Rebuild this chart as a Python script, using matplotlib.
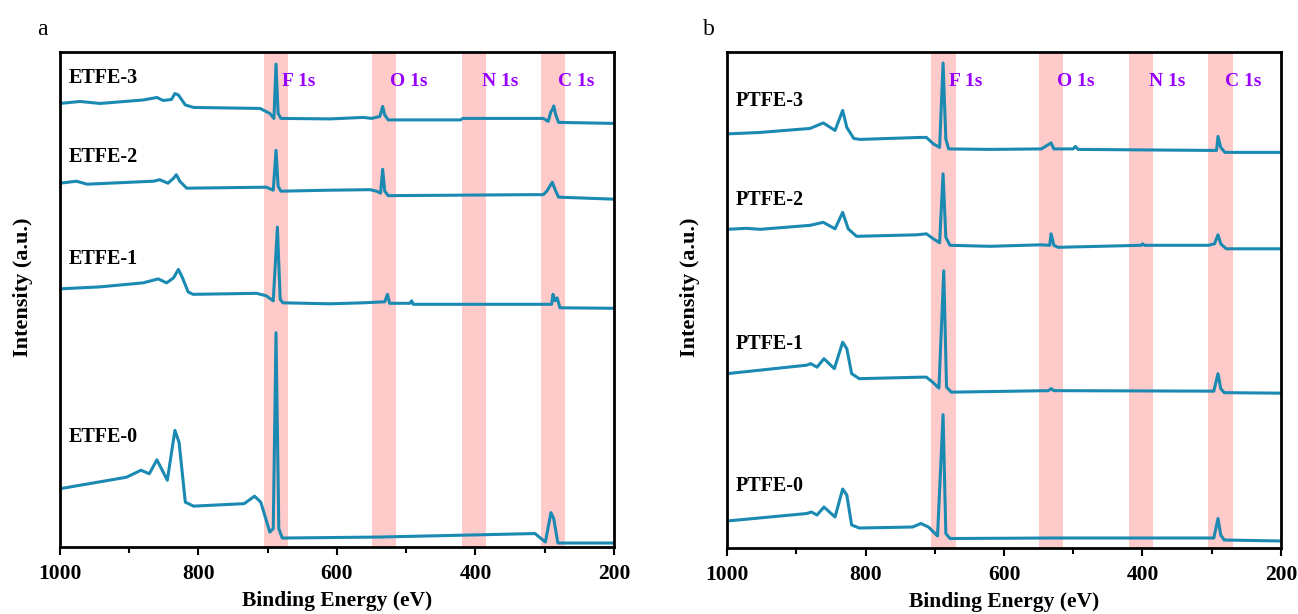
import numpy as np
import matplotlib.pyplot as plt

plt.rcParams['font.family'] = ['Liberation Serif', 'DejaVu Serif']

# 结合能 (eV) 与强度 (a.u.)，各谱线已按堆叠偏移
etfe3_x = [1000, 971, 942, 880, 860, 851, 839, 834, 829, 819, 807, 711, 697, 691, 688, 685, 681,
           610, 562, 550, 538, 534, 531, 526, 422, 418, 302, 295, 291, 289, 287, 284, 280, 201]
etfe3_y = [88.7, 89.1, 88.7, 89.4, 89.9, 89.3, 89.5, 90.7, 90.4, 88.4, 87.9, 87.7, 86.7, 85.7, 96.6, 86.7, 85.7,
           85.6, 85.9, 85.7, 86.1, 88.1, 86.4, 85.4, 85.4, 85.7, 85.7, 85.1, 87.1, 87.4, 88.2, 86.4, 84.9, 84.7]

etfe2_x = [1000, 976, 961, 865, 856, 844, 836, 832, 827, 817, 702, 692, 688, 685, 681,
           610, 552, 543, 537, 534, 531, 526, 321, 302, 297, 289, 285, 280, 201]
etfe2_y = [72.7, 73.1, 72.5, 73.1, 73.4, 72.7, 73.7, 74.4, 73.1, 71.7, 71.9, 71.3, 79.3, 72.1, 71.1,
           71.3, 71.4, 71.1, 70.7, 75.5, 71.1, 70.2, 70.4, 70.4, 71.1, 72.9, 71.4, 69.9, 69.5]

etfe1_x = [1000, 942, 880, 858, 846, 836, 829, 823, 815, 808, 716, 702, 692, 686, 682, 678,
           610, 562, 531, 527, 524, 495, 492, 490, 302, 290, 288, 285, 282, 278, 201]
etfe1_y = [51.5, 51.9, 52.7, 53.5, 52.7, 53.7, 55.4, 53.7, 50.9, 50.4, 50.6, 50.1, 49.1, 63.9, 49.4, 48.7,
           48.5, 48.7, 48.9, 50.4, 48.6, 48.6, 49.1, 48.4, 48.4, 48.4, 50.4, 49.1, 49.7, 47.7, 47.6]

etfe0_x = [1000, 904, 883, 871, 860, 845, 834, 828, 819, 807, 734, 719, 710, 697, 692, 688, 684, 679,
           539, 314, 299, 291, 287, 281, 200]
etfe0_y = [11.4, 13.7, 15.1, 14.4, 17.2, 13.1, 23.1, 20.7, 8.7, 7.9, 8.4, 9.9, 8.7, 2.7, 3.4, 42.7, 3.4, 1.5,
           1.7, 2.4, 0.7, 6.6, 5.4, 0.5, 0.5]

ptfe3_x = [1000, 952, 880, 861, 844, 833, 827, 817, 808, 721, 712, 702, 693, 688, 684, 680,
           620, 546, 532, 528, 500, 497, 493, 305, 293, 291, 287, 281, 200]
ptfe3_y = [82.6, 82.9, 83.7, 84.8, 83.3, 87.3, 83.9, 81.7, 81.5, 81.9, 81.9, 80.6, 79.9, 96.8, 81.6, 79.6,
           79.5, 79.6, 80.8, 79.6, 79.6, 80.1, 79.5, 79.3, 79.3, 82.1, 79.9, 78.9, 78.9]

ptfe2_x = [1000, 972, 952, 880, 861, 844, 833, 825, 813, 726, 712, 702, 693, 688, 684, 678,
           620, 546, 534, 532, 528, 522, 402, 400, 397, 305, 296, 291, 287, 279, 200]
ptfe2_y = [63.5, 63.7, 63.5, 64.3, 64.9, 63.6, 66.9, 63.6, 62.1, 62.4, 62.6, 61.6, 60.8, 74.6, 61.9, 60.3,
           60.1, 60.4, 60.3, 62.6, 60.3, 59.9, 60.3, 60.6, 60.3, 60.3, 60.6, 62.4, 60.6, 59.6, 59.6]

ptfe1_x = [1000, 885, 879, 870, 860, 845, 833, 827, 820, 809, 720, 712, 703, 694, 687, 683, 676,
           536, 532, 528, 297, 291, 287, 282, 200]
ptfe1_y = [34.6, 36.3, 36.6, 35.9, 37.6, 35.6, 40.9, 39.6, 34.6, 33.6, 33.9, 33.9, 32.9, 31.7, 55.2, 31.9, 30.9,
           31.2, 31.6, 31.2, 31.1, 34.6, 31.6, 30.8, 30.7]

ptfe0_x = [1000, 885, 878, 870, 860, 844, 833, 827, 820, 809, 732, 720, 709, 696, 688, 684, 678,
           532, 297, 291, 287, 282, 200]
ptfe0_y = [5.1, 6.6, 6.9, 6.3, 7.9, 5.9, 11.5, 10.3, 4.3, 3.7, 3.9, 4.6, 3.9, 2.1, 26.4, 2.6, 1.6,
           1.7, 1.7, 5.6, 2.3, 1.3, 1.1]

# 元素特征峰区间
bands = [(670, 705), (515, 550), (385, 420), (270, 305)]
peak_names = ['F 1s', 'O 1s', 'N 1s', 'C 1s']
peak_text_x = [679, 524, 391, 281]

left_curves = [(etfe3_x, etfe3_y), (etfe2_x, etfe2_y), (etfe1_x, etfe1_y), (etfe0_x, etfe0_y)]
left_names = ['ETFE-3', 'ETFE-2', 'ETFE-1', 'ETFE-0']
left_name_y = [93.8, 78.0, 57.4, 21.8]

right_curves = [(ptfe3_x, ptfe3_y), (ptfe2_x, ptfe2_y), (ptfe1_x, ptfe1_y), (ptfe0_x, ptfe0_y)]
right_names = ['PTFE-3', 'PTFE-2', 'PTFE-1', 'PTFE-0']
right_name_y = [89.2, 69.4, 40.6, 12.2]

line_color = '#1a8ab2'
band_color = '#ffcaca'
text_color = '#9900ff'

fig = plt.figure(figsize=(12.98, 6.14), dpi=100)
ax_a = fig.add_axes([0.0462, 0.1091, 0.4268, 0.806])
ax_b = fig.add_axes([0.5601, 0.1075, 0.4268, 0.8078])


def draw_panel(ax, curves, names, name_y, letter):
    for lo, hi in bands:
        ax.axvspan(lo, hi, color=band_color, lw=0, zorder=0)
    for (x, y) in curves:
        ax.plot(x, y, color=line_color, lw=2.2, zorder=2)
    for name, ny in zip(names, name_y):
        ax.text(987, ny, name, fontsize=14.5, fontweight='bold', va='center', ha='left')
    for tx, name in zip(peak_text_x, peak_names):
        ax.text(tx, 93.1, name, fontsize=14, fontweight='bold', color=text_color, va='center', ha='left')
    ax.set_xlim(1000, 200)
    ax.set_ylim(-0.3, 99)
    ax.set_xticks([1000, 800, 600, 400, 200])
    ax.set_xticks([900, 700, 500, 300], minor=True)
    ax.set_yticks([])
    ax.tick_params(axis='x', which='major', direction='out', length=6, width=1.5, labelsize=15.5, pad=6)
    ax.tick_params(axis='x', which='minor', direction='out', length=4, width=1.5)
    for lab in ax.get_xticklabels():
        lab.set_fontweight('bold')
    for sp in ax.spines.values():
        sp.set_linewidth(2)
    ax.set_xlabel('Binding Energy (eV)', fontsize=15.5, fontweight='bold', labelpad=5)
    ax.set_ylabel('Intensity (a.u.)', fontsize=16, fontweight='bold', va='center')
    ax.yaxis.set_label_coords(-0.067, 0.525)
    ax.text(-0.032, 1.045, letter, transform=ax.transAxes, fontsize=17, va='center', ha='center')


draw_panel(ax_a, left_curves, left_names, left_name_y, 'a')
draw_panel(ax_b, right_curves, right_names, right_name_y, 'b')

fig.savefig('out.png', dpi=100)
